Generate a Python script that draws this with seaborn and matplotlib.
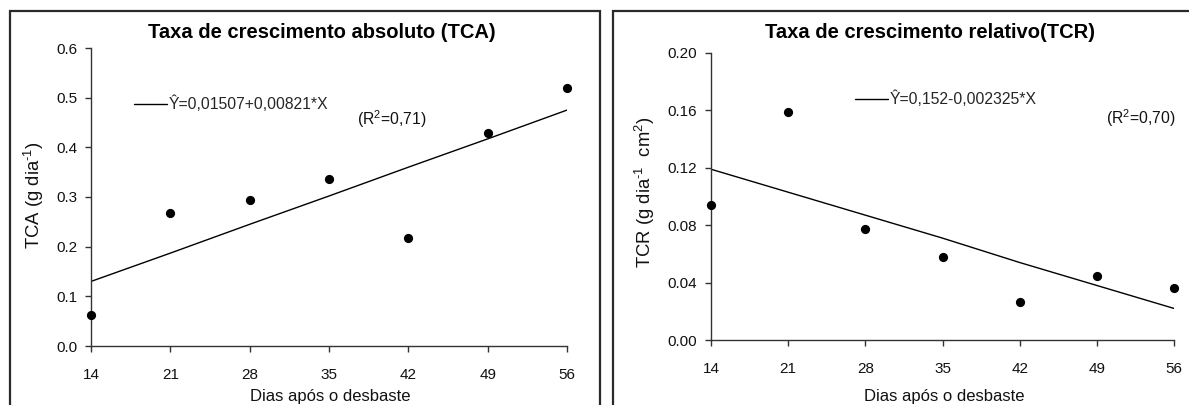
import matplotlib
matplotlib.use("Agg")
import matplotlib.pyplot as plt
from matplotlib.patches import Rectangle
import seaborn as sns
import pandas as pd

# ---- data ----
dias = [14, 21, 28, 35, 42, 49, 56]
tca_obs = [0.063, 0.268, 0.293, 0.336, 0.217, 0.428, 0.520]
tca_fit = [0.130, 0.187, 0.245, 0.302, 0.360, 0.417, 0.475]
tcr_obs = [0.0944, 0.159, 0.0773, 0.0578, 0.0267, 0.0445, 0.0362]
tcr_fit = [0.119, 0.103, 0.087, 0.071, 0.054, 0.038, 0.022]

tca_ticks = [0.0, 0.1, 0.2, 0.3, 0.4, 0.5, 0.6]
tca_ticklabels = ["0.0", "0.1", "0.2", "0.3", "0.4", "0.5", "0.6"]
tcr_ticks = [0.00, 0.04, 0.08, 0.12, 0.16, 0.20]
tcr_ticklabels = ["0.00", "0.04", "0.08", "0.12", "0.16", "0.20"]

titles = ["Taxa de crescimento absoluto (TCA)", "Taxa de crescimento relativo(TCR)"]
ylabels = [r"TCA (g dia$^{\text{-1}}$)", r"TCR (g dia$^{\text{-1}}$  cm$^{2}$)"]
xlabel = "Dias após o desbaste"
eqs = ["Ŷ=0,01507+0,00821*X", "Ŷ=0,152-0,002325*X"]
r2s = ["(R$^{2}$=0,71)", "(R$^{2}$=0,70)"]

sns.set_style("ticks")
plt.rcParams["font.family"] = ["Liberation Sans", "DejaVu Sans"]
plt.rcParams["mathtext.fontset"] = "custom"
plt.rcParams["mathtext.rm"] = "Liberation Sans"
plt.rcParams["mathtext.it"] = "Liberation Sans"
plt.rcParams["mathtext.bf"] = "Liberation Sans:bold"
plt.rcParams["mathtext.default"] = "regular"

W, H = 1189, 405
fig = plt.figure(figsize=(W / 100, H / 100), dpi=100)

def fx(px):
    return px / W

def fy(py):
    return 1 - py / H

# frames around each panel
for x0, x1 in [(9.5, 600), (613.5, 1200)]:
    fig.patches.append(Rectangle((fx(x0), fy(420)), fx(x1) - fx(x0), fy(11) - fy(420),
                                 transform=fig.transFigure, fill=False,
                                 edgecolor="#2a2a2a", linewidth=1.6))

panels = [
    dict(rect=(91, 567, 48, 346), obs=tca_obs, fit=tca_fit, ticks=tca_ticks,
         tl=tca_ticklabels, ylim=(0, 0.6), title_xy=(322, 32), ylab_xy=(34, 195),
         xlab_xy=(330, 396), leg=(0.090, 0.812), r2=(0.559, 0.762)),
    dict(rect=(711, 1174, 53, 340), obs=tcr_obs, fit=tcr_fit, ticks=tcr_ticks,
         tl=tcr_ticklabels, ylim=(0, 0.20), title_xy=(930, 32), ylab_xy=(645, 192),
         xlab_xy=(944, 396), leg=(0.311, 0.840), r2=(0.853, 0.774)),
]

for i, p in enumerate(panels):
    l, r, t, b = p["rect"]
    ax = fig.add_axes([fx(l), fy(b), fx(r) - fx(l), fy(t) - fy(b)])
    df = pd.DataFrame({"dias": dias, "obs": p["obs"], "fit": p["fit"]})
    sns.lineplot(data=df, x="dias", y="fit", ax=ax, color="black", linewidth=1.0,
                 label=eqs[i])
    sns.scatterplot(data=df, x="dias", y="obs", ax=ax, color="black", s=44,
                    edgecolor="black", linewidth=0, clip_on=False, zorder=5)
    ax.set_xlim(14, 56)
    ax.set_ylim(*p["ylim"])
    ax.set_xticks(dias)
    ax.set_xticklabels([str(d) for d in dias])
    ax.set_yticks(p["ticks"])
    ax.set_yticklabels(p["tl"])
    ax.set_xlabel("")
    ax.set_ylabel("")
    sns.despine(ax=ax)
    for s in ["left", "bottom"]:
        ax.spines[s].set_color("#333333")
        ax.spines[s].set_linewidth(1.0)
    ax.tick_params(axis="x", length=4, width=1.0, color="#333333", pad=12,
                   labelsize=11, labelcolor="#111111")
    ax.tick_params(axis="y", length=4, width=1.0, color="#333333", pad=6,
                   labelsize=11, labelcolor="#111111")
    ax.set_facecolor("none")
    leg = ax.legend(loc="center left", bbox_to_anchor=p["leg"], frameon=False,
                    handlelength=2.1, handletextpad=0.1, borderpad=0,
                    borderaxespad=0, fontsize=11.3)
    ax.text(p["r2"][0], p["r2"][1], r2s[i], transform=ax.transAxes, fontsize=11.3,
            ha="left", va="center", color="#111111")
    fig.text(fx(p["title_xy"][0]), fy(p["title_xy"][1]), titles[i], ha="center",
             va="center", fontsize=14.5, fontweight="bold", color="black")
    fig.text(fx(p["ylab_xy"][0]), fy(p["ylab_xy"][1]), ylabels[i], ha="center",
             va="center", rotation=90, fontsize=13.3, color="#111111")
    fig.text(fx(p["xlab_xy"][0]), fy(p["xlab_xy"][1]), xlabel, ha="center",
             va="center", fontsize=12, color="#111111")

fig.savefig("out.png", dpi=100, facecolor="white")
